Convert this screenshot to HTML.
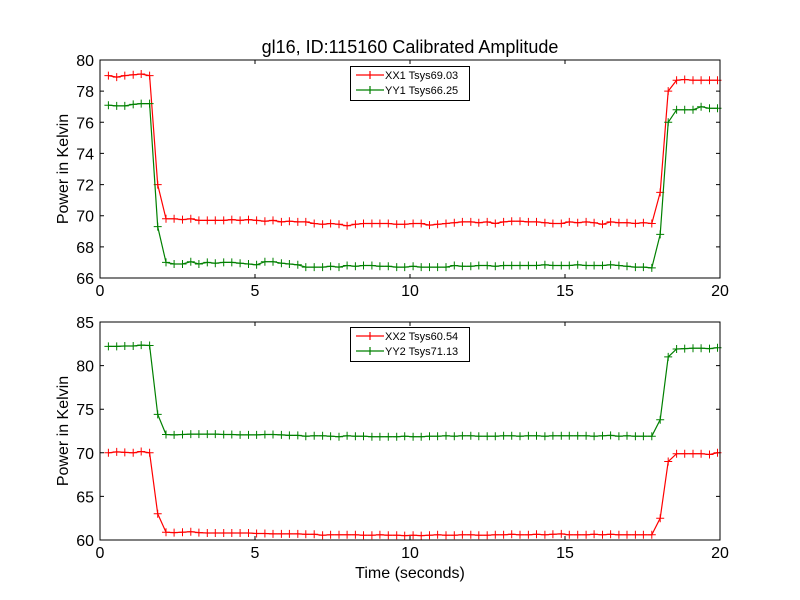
<!DOCTYPE html>
<html><head><meta charset="utf-8"><style>body{margin:0;background:#fff}svg{display:block;font-family:"Liberation Sans","DejaVu Sans",sans-serif}</style></head>
<body>
<svg id="chart" width="800" height="600" viewBox="0 0 800 600">
<rect width="800" height="600" fill="#fff"/>
<text x="410" y="53" font-size="18" text-anchor="middle">gl16, ID:115160 Calibrated Amplitude</text>
<g id="plots"></g>
</svg>
<script>
const times=[0.27,0.54,0.80,1.07,1.33,1.60,1.86,2.13,2.39,2.66,2.93,3.19,3.46,3.72,3.99,4.25,4.52,4.79,5.05,5.32,5.58,5.85,6.11,6.38,6.64,6.91,7.18,7.44,7.71,7.97,8.24,8.50,8.77,9.03,9.30,9.57,9.83,10.10,10.36,10.63,10.89,11.16,11.43,11.69,11.96,12.22,12.49,12.75,13.02,13.28,13.55,13.82,14.08,14.35,14.61,14.88,15.14,15.41,15.68,15.94,16.21,16.47,16.74,17.00,17.27,17.53,17.80,18.07,18.33,18.60,18.86,19.13,19.39,19.66,19.92];
const xx1=[79.0,78.9,79.0,79.05,79.1,79.0,72.0,
69.8,69.8,69.75,69.8,69.7,69.7,69.7,69.7,69.75,69.7,
69.75,69.7,69.65,69.7,69.6,69.65,69.6,69.6,69.5,69.45,
69.5,69.45,69.35,69.45,69.5,69.5,69.5,69.5,69.45,69.45,
69.5,69.5,69.4,69.45,69.5,69.55,69.6,69.6,69.55,69.6,
69.5,69.6,69.65,69.65,69.6,69.6,69.55,69.5,69.5,69.6,
69.55,69.6,69.55,69.45,69.6,69.55,69.55,69.5,69.55,69.5,
71.5,78.0,78.7,78.75,78.7,78.7,78.7,78.7];
const yy1=[77.1,77.05,77.05,77.15,77.2,77.2,69.3,
67.0,66.9,66.9,67.05,66.9,67.0,66.95,67.0,67.0,66.95,
66.9,66.85,67.05,67.05,66.95,66.9,66.85,66.7,66.7,66.7,
66.75,66.7,66.8,66.75,66.8,66.8,66.75,66.75,66.7,66.7,
66.75,66.7,66.7,66.7,66.7,66.8,66.75,66.75,66.8,66.8,
66.75,66.8,66.8,66.8,66.8,66.8,66.85,66.8,66.8,66.8,
66.85,66.8,66.8,66.8,66.85,66.8,66.75,66.7,66.7,66.65,
68.8,76.0,76.8,76.8,76.8,77.0,76.9,76.9];
const xx2=[70.0,70.1,70.05,70.0,70.15,70.0,63.0,
60.9,60.85,60.9,60.95,60.85,60.8,60.8,60.8,60.8,60.8,
60.8,60.75,60.75,60.7,60.7,60.7,60.7,60.65,60.65,60.55,
60.6,60.6,60.6,60.6,60.55,60.55,60.6,60.55,60.55,60.5,
60.55,60.5,60.55,60.6,60.55,60.55,60.6,60.6,60.55,60.55,
60.6,60.6,60.65,60.6,60.6,60.65,60.6,60.65,60.7,60.6,
60.6,60.6,60.65,60.6,60.65,60.6,60.6,60.6,60.6,60.6,
62.5,69.0,69.9,69.9,69.9,69.9,69.8,70.0];
const yy2=[82.2,82.2,82.25,82.25,82.35,82.3,74.4,
72.1,72.05,72.1,72.15,72.15,72.15,72.15,72.1,72.1,72.05,
72.05,72.05,72.1,72.1,72.05,72.0,72.0,71.9,71.95,71.95,
71.9,71.85,71.95,71.9,71.9,71.85,71.85,71.85,71.85,71.9,
71.85,71.85,71.9,71.9,71.95,71.9,71.95,71.95,71.9,71.9,
71.9,71.95,71.95,71.9,71.95,71.95,71.9,71.95,71.95,71.95,
71.95,71.95,71.9,71.95,72.0,71.9,71.95,71.9,71.9,71.9,
73.8,81.0,81.9,81.95,82.0,82.0,81.95,82.05];
const xTicks=[0,5,10,15,20];
const yTicksTop=[66,68,70,72,74,76,78,80];
const yTicksBot=[60,65,70,75,80,85];
const legendTop=["XX1 Tsys69.03","YY1 Tsys66.25"];
const legendBot=["XX2 Tsys60.54","YY2 Tsys71.13"];

const NS="http://www.w3.org/2000/svg";
const root=document.getElementById('plots');
function mk(tag,attrs,parent){const e=document.createElementNS(NS,tag);for(const k in attrs)e.setAttribute(k,attrs[k]);parent.appendChild(e);return e;}

function panel(top,bottom,yTicks,series,colors,labels,legendY,pname,showXLabel){
  const L=100,R=720,ymin=yTicks[0],ymax=yTicks[yTicks.length-1];
  const g=mk('g',{},root);
  
  
  const xs=t=>L+(t-0)/(20-0)*(R-L);
  const ys=v=>bottom-(v-ymin)/(ymax-ymin)*(bottom-top);
  xTicks.forEach(t=>{
    const x=xs(t);
    const tk=mk('path',{d:`M${x},${bottom}v-4M${x},${top}v4`,stroke:'#000','stroke-width':1},g);
    
    
    const lb=mk('text',{x:x,y:bottom+18,'font-size':16,'text-anchor':'middle'},g);
    lb.textContent=t;
    
    
  });
  yTicks.forEach(v=>{
    const y=ys(v);
    const tk=mk('path',{d:`M${L},${y}h4M${R},${y}h-4`,stroke:'#000','stroke-width':1},g);
    
    
    const lb=mk('text',{x:L-6,y:y+6,'font-size':16,'text-anchor':'end'},g);
    lb.textContent=v;
    
    
  });
  series.forEach((s,si)=>{
    const d=s.map((v,i)=>(i?'L':'M')+xs(times[i]).toFixed(1)+','+ys(v).toFixed(1)).join('');
    const ln=mk('path',{d:d,fill:'none',stroke:colors[si],'stroke-width':1.2},g);
    
    
    const m=s.map((v,i)=>{const x=xs(times[i]),y=ys(v);return `M${(x-4).toFixed(1)},${y.toFixed(1)}h8M${x.toFixed(1)},${(y-4).toFixed(1)}v8`;}).join('');
    const mp=mk('path',{d:m,stroke:colors[si],'stroke-width':1},g);
    
    
  });
  const fr=mk('rect',{x:L,y:top,width:R-L,height:bottom-top,fill:'none',stroke:'#000','stroke-width':1},g);
  
  
  const yl=mk('text',{x:0,y:0,'font-size':16,'text-anchor':'middle',transform:`translate(68,${(top+bottom)/2}) rotate(-90)`},g);
  yl.textContent='Power in Kelvin';
  
  
  const lg=mk('g',{},g);
  
  
  mk('rect',{x:350.5,y:legendY+0.5,width:119,height:34,fill:'#fff',stroke:'#000','stroke-width':1},lg);
  labels.forEach((lab,i)=>{
    const y=legendY+9+i*15;
    const ent=mk('g',{},lg);
    
    
    mk('path',{d:`M356,${y}h28M370,${y-4}v8M366,${y}h8`,stroke:colors[i],'stroke-width':1.2},ent);
    const t=mk('text',{x:385,y:y+4,'font-size':11},ent);
    t.textContent=lab;
  });
  if(showXLabel){
    const xl=mk('text',{x:410,y:578,'font-size':16,'text-anchor':'middle'},g);
    xl.textContent='Time (seconds)';
    
    
  }
}
panel(60,278,yTicksTop,[xx1,yy1],['#ff0000','#008000'],legendTop,66,'top-panel',false);
panel(322,540,yTicksBot,[xx2,yy2],['#ff0000','#008000'],legendBot,327,'bottom-panel',true);
</script>
</body></html>
